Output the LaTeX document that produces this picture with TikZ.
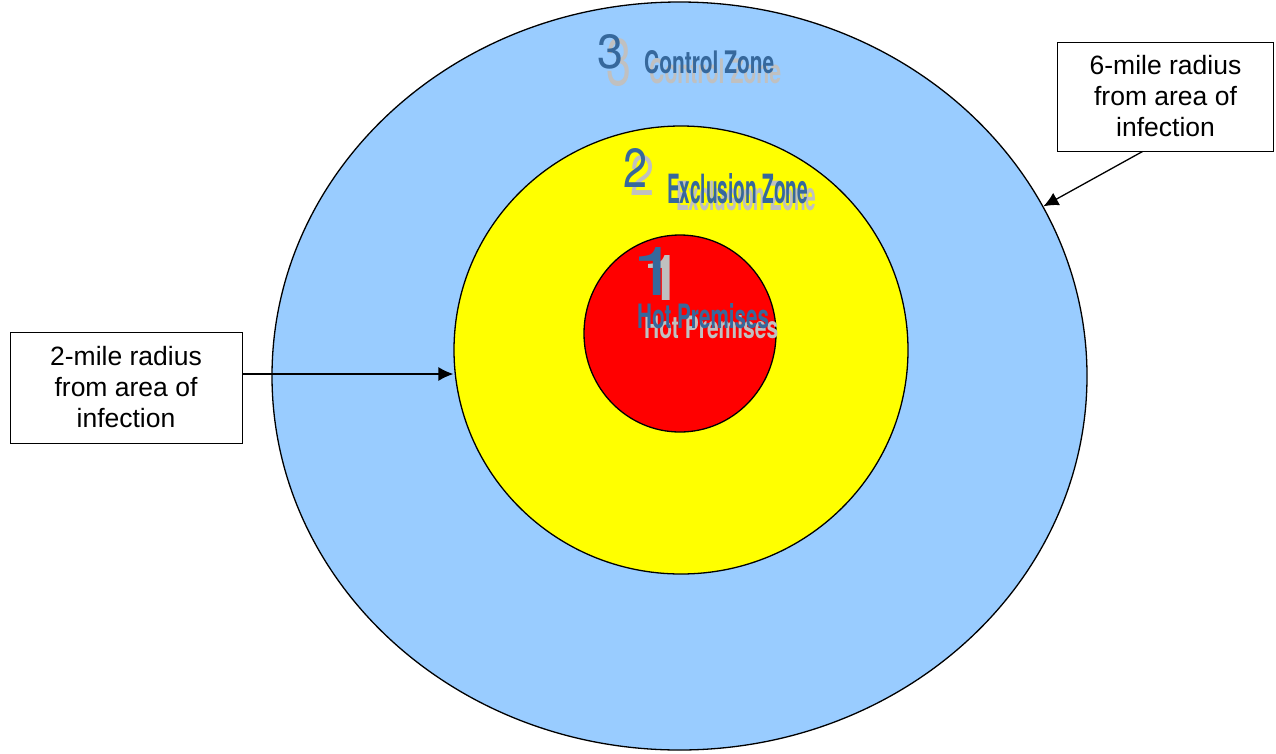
\documentclass[tikz,border=0pt]{standalone}
\usepackage{fontspec}
\usepackage{graphicx}
\setmainfont{Liberation Sans}
\newfontfamily\zonefont{TeX Gyre Heros}
\usetikzlibrary{arrows.meta,shapes.geometric}

\definecolor{controlblue}{RGB}{153,204,255}
\definecolor{exclyellow}{RGB}{255,255,0}
\definecolor{hotred}{RGB}{255,0,0}
\definecolor{labelblue}{RGB}{54,104,156}
\definecolor{shadowgray}{RGB}{192,192,192}

% Beschriftung in vorgegebene Breite und Hoehe pressen
\newcommand\zonetext[3]{\resizebox{#1pt}{#2pt}{\zonefont #3}}

\tikzset{
  zone/.style={ellipse,draw=black,line width=1.3pt,inner sep=0pt},
  infobox/.style={draw=black,line width=1pt,fill=white,align=center,
    font=\fontsize{26.5}{31}\selectfont,inner sep=0pt},
  pointer/.style={line width=1.3pt,-{Latex[length=15pt,width=14pt]}},
  zonelabel/.style={anchor=base west,inner sep=0pt,text=labelblue},
  zoneshadow/.style={anchor=base west,inner sep=0pt,text=shadowgray}
}

\begin{document}
\begin{tikzpicture}[x=1pt,y=-1pt]
% Rahmen
\fill[white] (0,0) rectangle (1276,753);
\useasboundingbox (0,0) rectangle (1276,753);

% Zonen
\node[zone,fill=controlblue,minimum width=815,minimum height=748] (zone3) at (679.5,376) {};
\node[zone,fill=exclyellow,minimum width=454,minimum height=448] (zone2) at (681,350) {};
\node[zone,fill=hotred,minimum width=192,minimum height=197] (zone1) at (680,333.5) {};

% Schatten der Beschriftungen
\node[zoneshadow] (num3s) at (606,85) {\zonetext{25}{47}{3}};
\node[zoneshadow] (name3s) at (649,83) {\zonetext{132}{25}{\bfseries Control Zone}};
\node[zoneshadow] (num2s) at (630,195) {\zonetext{24}{40}{2}};
\node[zoneshadow] (name2s) at (676,210) {\zonetext{140}{30}{\bfseries Exclusion Zone}};
\node[zoneshadow] (num1s) at (639,300) {\zonetext{49}{45}{1}};
\node[zoneshadow] (name1s) at (644,338) {\zonetext{134}{23}{\bfseries Hot Premises}};

% Beschriftungen
\node[zonelabel] (num3) at (597,68) {\zonetext{26}{34}{3}};
\node[zonelabel] (name3) at (644,73) {\zonetext{130}{23}{\bfseries Control Zone}};
\node[zonelabel] (num2) at (623,187) {\zonetext{24}{39}{2}};
\node[zonelabel] (name2) at (667,203) {\zonetext{141}{30}{\bfseries Exclusion Zone}};
\node[zonelabel] (num1) at (630,295) {\zonetext{49}{48}{1}};
\node[zonelabel] (name1) at (637,328) {\zonetext{132}{25}{\bfseries Hot Premises}};

% Hinweiskaesten
\node[infobox,minimum width=232,minimum height=111] (box2) at (126,387.5)
  {2-mile radius\\from area of\\infection};
\node[infobox,minimum width=216,minimum height=109] (box6) at (1165.5,96.5)
  {6-mile radius\\from area of\\infection};

% Pfeile
\draw[pointer] ([yshift=13.5pt]box2.east) -- ([yshift=13.5pt]box2.east -| zone2.west);
\draw[pointer] ([xshift=-23pt]box6.south) -- (zone3.25);
\end{tikzpicture}
\end{document}
